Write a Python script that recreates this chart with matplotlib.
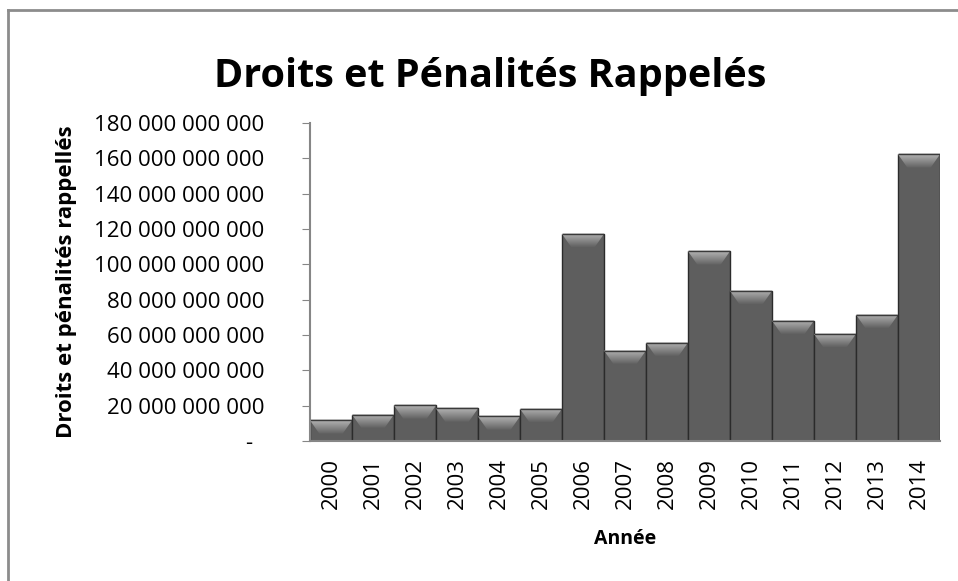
import numpy as np
import matplotlib
matplotlib.use("Agg")
import matplotlib.pyplot as plt
from matplotlib.patches import Polygon
from matplotlib.lines import Line2D

plt.rcParams.update({
    "font.family": ["Open Sans", "DejaVu Sans"],
})

# Data
years = ["2000", "2001", "2002", "2003", "2004", "2005", "2006", "2007",
         "2008", "2009", "2010", "2011", "2012", "2013", "2014"]
values_bn = [11.7, 15.0, 20.1, 18.4, 13.9, 18.2, 117.2, 51.2,
             55.7, 107.4, 85.0, 68.1, 60.6, 71.5, 162.3]
values = [v * 1e9 for v in values_bn]
yticks = [i * 20e9 for i in range(10)]


def fmt(v):
    if v == 0:
        return "-  "
    return "{:,.0f}".format(v).replace(",", " ")


W, H = 958, 581
fig = plt.figure(figsize=(W / 100, H / 100), dpi=100)
ax = fig.add_axes([310 / W, 140 / H, 630 / W, 318 / H])

x = np.arange(len(years))
ax.bar(x, values, width=1.0, color="#5e5e5e", edgecolor="#2b2b2b",
       linewidth=1.0, zorder=2)

# bevelled tops
bevel_h = 7.5e9
inset = 0.22
grad = np.linspace(1, 0, 64).reshape(-1, 1)
cmap = matplotlib.colors.LinearSegmentedColormap.from_list(
    "bev", ["#626262", "#8a8a8a", "#b4b4b4"])
for xi, v in zip(x, values):
    x0, x1 = xi - 0.5, xi + 0.5
    h = min(bevel_h, v * 0.9)
    top = Polygon([(x0, v), (x1, v), (x1 - inset, v - h), (x0 + inset, v - h)],
                  closed=True, facecolor="none", edgecolor="none")
    ax.add_patch(top)
    im = ax.imshow(grad, cmap=cmap, extent=(x0, x1, v - h, v),
                   aspect="auto", zorder=3, interpolation="bicubic")
    im.set_clip_path(top)
    ax.plot([x0 + 0.02, x1 - 0.02], [v, v], color="#3a3a3a", lw=1.0, zorder=4)

ax.set_xlim(-0.5, len(years) - 0.5)
ax.set_ylim(0, 180e9)

for s in ["top", "right"]:
    ax.spines[s].set_visible(False)
for s in ["left", "bottom"]:
    ax.spines[s].set_color("#868686")
    ax.spines[s].set_linewidth(1.5)

ax.set_yticks(yticks)
ax.set_yticklabels([fmt(v) for v in yticks], fontsize=16)
ax.tick_params(axis="y", length=6, color="#868686", pad=27)
ax.set_xticks(x)
ax.set_xticklabels(years, rotation=90, fontsize=16)
ax.tick_params(axis="x", length=0, pad=12)

ax.set_xlabel("Année", fontsize=14, fontweight="bold", labelpad=15)
ax.set_ylabel("Droits et pénalités rappellés", fontsize=16, fontweight="bold",
              labelpad=12)

fig.text(490 / W, 1 - 76 / H, "Droits et Pénalités Rappelés", ha="center",
         va="center", fontsize=28.5, fontweight="bold")

# chart frame (top and left edges visible)
fig.add_artist(Line2D([8 / W, 8 / W], [0, 1 - 10 / H], color="#8c8c8c", lw=2))
fig.add_artist(Line2D([8 / W, 1], [1 - 10 / H, 1 - 10 / H], color="#8c8c8c", lw=2))

fig.savefig("out.png", dpi=100)
